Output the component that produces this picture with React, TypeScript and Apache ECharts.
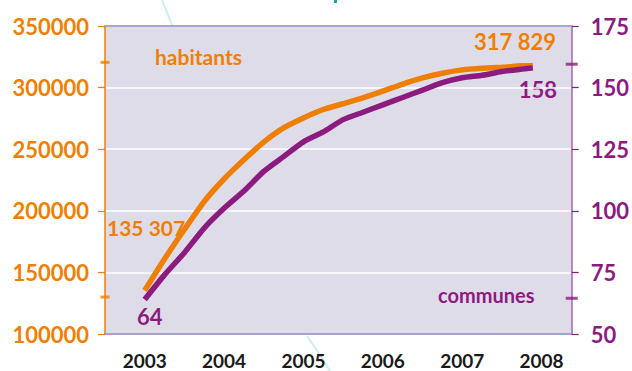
import React, { useEffect, useRef } from "react";
import * as echarts from "echarts";

// Category years shown on the x axis
const years = [2003, 2004, 2005, 2006, 2007, 2008];
// Sample times (fractional years) of the series
const timePoints = [
  2003, 2003.25, 2003.5, 2003.75, 2004, 2004.25, 2004.5, 2004.75, 2005, 2005.25, 2005.5,
  2005.75, 2006, 2006.25, 2006.5, 2006.75, 2007, 2007.25, 2007.5, 2007.75, 2007.89,
];
const habitants = [
  135307, 160900, 184800, 207600, 225800, 241400, 255800, 267300, 275400, 282200, 286900,
  291700, 297100, 302900, 307900, 311700, 314400, 315700, 316500, 317700, 317829,
];
const communes = [
  64, 74, 83, 93, 101, 108, 116, 122, 128, 132, 137, 140, 143, 146, 149, 152, 154, 155, 156.5,
  157.5, 158,
];
const habitantsAxis = { min: 100000, max: 350000, interval: 50000 };
const communesAxis = { min: 50, max: 175, interval: 25 };
const xRange = { min: 2002.5, max: 2008.38 };
const habitantsMarks = [320500, 130000];
const communesMarks = [159.5, 64.5];
const labels = { habitants: "habitants", communes: "communes" };

const ORANGE = "#ef7f00";
const PURPLE = "#8c1b7f";
const FONT = "Lato, 'DejaVu Sans', sans-serif";

const fmtSpace = (n: number) => String(n).replace(/\B(?=(\d{3})+(?!\d))/g, " ");

export default function App() {
  const ref = useRef<HTMLDivElement>(null);
  useEffect(() => {
    if (!ref.current) return;
    const chart = echarts.init(ref.current, undefined, { renderer: "svg" });
    const habData = timePoints.map((t, i) => [t, habitants[i]]);
    const comData = timePoints.map((t, i) => [t, communes[i]]);
    const first = 0;
    const last = timePoints.length - 1;
    chart.setOption({
      animation: false,
      grid: {
        left: 105,
        right: 59,
        top: 26,
        bottom: 37,
        show: true,
        backgroundColor: "#dfdcea",
        borderWidth: 0,
      },
      xAxis: [
        {
          type: "value",
          min: xRange.min,
          max: xRange.max,
          axisLine: { show: true, lineStyle: { color: "#8a85b8", width: 1.5 } },
          axisTick: { show: false },
          splitLine: { show: false },
          axisLabel: {
            customValues: years,
            formatter: (v: number) => String(v),
            color: "#1a1a1a",
            fontWeight: "bold",
            fontSize: 19,
            fontFamily: FONT,
            margin: 17,
          },
        },
        {
          type: "value",
          position: "top",
          min: xRange.min,
          max: xRange.max,
          axisLine: { show: true, lineStyle: { color: "#aaa6c8", width: 2 } },
          axisTick: { show: false },
          axisLabel: { show: false },
          splitLine: { show: false },
        },
      ],
      yAxis: [
        {
          type: "value",
          position: "left",
          min: habitantsAxis.min,
          max: habitantsAxis.max,
          interval: habitantsAxis.interval,
          axisLine: { show: true, lineStyle: { color: ORANGE, width: 1.5 } },
          axisTick: { show: true, inside: false, length: 7, lineStyle: { color: ORANGE, width: 1.2 } },
          splitLine: { show: true, lineStyle: { color: "#ffffff", width: 1.5 } },
          axisLabel: {
            formatter: (v: number) => String(v),
            color: ORANGE,
            fontWeight: "bold",
            fontSize: 22,
            fontFamily: FONT,
            margin: 16,
          },
        },
        {
          type: "value",
          position: "right",
          min: communesAxis.min,
          max: communesAxis.max,
          interval: communesAxis.interval,
          axisLine: { show: true, lineStyle: { color: "#a366a3", width: 1.5 } },
          axisTick: { show: true, inside: false, length: 7, lineStyle: { color: PURPLE, width: 1.2 } },
          splitLine: { show: false },
          axisLabel: {
            formatter: (v: number) => String(v),
            color: PURPLE,
            fontWeight: "bold",
            fontSize: 22,
            fontFamily: FONT,
            margin: 19,
          },
        },
      ],
      series: [
        {
          type: "line",
          yAxisIndex: 0,
          data: habData,
          showSymbol: false,
          smooth: 0.2,
          lineStyle: { color: ORANGE, width: 5.5 },
          z: 3,
        },
        {
          type: "line",
          yAxisIndex: 1,
          data: comData,
          showSymbol: false,
          smooth: 0.2,
          lineStyle: { color: PURPLE, width: 5.5 },
          z: 4,
        },
        {
          type: "scatter",
          yAxisIndex: 0,
          clip: false,
          symbol: "rect",
          symbolSize: [9, 3],
          itemStyle: { color: ORANGE },
          data: habitantsMarks.map((v) => [xRange.min, v]),
          z: 6,
        },
        {
          type: "scatter",
          yAxisIndex: 1,
          clip: false,
          symbol: "rect",
          symbolSize: [12, 3],
          itemStyle: { color: PURPLE },
          data: communesMarks.map((v) => [xRange.max, v]),
          z: 6,
        },
      ],
      graphic: [
        {
          type: "polyline",
          z: -1,
          shape: { points: [[162, 0], [172, 25]] },
          style: { stroke: "#cdeee9", lineWidth: 2, fill: "none" },
        },
        {
          type: "polyline",
          z: -1,
          shape: { points: [[307, 336], [318, 352], [330, 371]] },
          style: { stroke: "#cdeee9", lineWidth: 2, fill: "none" },
        },
        {
          type: "rect",
          z: -1,
          shape: { x: 334, y: 0, width: 3, height: 3 },
          style: { fill: "#19a79e" },
        },
        {
          type: "text",
          x: 155,
          y: 56,
          style: {
            text: labels.habitants,
            fill: ORANGE,
            font: `bold 21px ${FONT}`,
            verticalAlign: "middle",
            align: "left",
          },
        },
        {
          type: "text",
          x: 556,
          y: 41.5,
          style: {
            text: fmtSpace(habitants[last]),
            fill: ORANGE,
            font: `bold 22px ${FONT}`,
            verticalAlign: "middle",
            align: "right",
          },
        },
        {
          type: "text",
          x: 107,
          y: 227.5,
          style: {
            text: fmtSpace(habitants[first]),
            fill: ORANGE,
            font: `bold 21px ${FONT}`,
            verticalAlign: "middle",
            align: "left",
          },
        },
        {
          type: "text",
          x: 557,
          y: 89,
          style: {
            text: String(communes[last]),
            fill: PURPLE,
            font: `bold 22px ${FONT}`,
            verticalAlign: "middle",
            align: "right",
          },
        },
        {
          type: "text",
          x: 137,
          y: 316.7,
          style: {
            text: String(communes[first]),
            fill: PURPLE,
            font: `bold 22px ${FONT}`,
            verticalAlign: "middle",
            align: "left",
          },
        },
        {
          type: "text",
          x: 438,
          y: 295,
          style: {
            text: labels.communes,
            fill: PURPLE,
            font: `bold 20px ${FONT}`,
            verticalAlign: "middle",
            align: "left",
          },
        },
      ],
    });
    return () => chart.dispose();
  }, []);
  return (
    <div
      ref={ref}
      style={{ position: "fixed", left: 0, top: 0, width: 632, height: 371, background: "#ffffff" }}
    />
  );
}
